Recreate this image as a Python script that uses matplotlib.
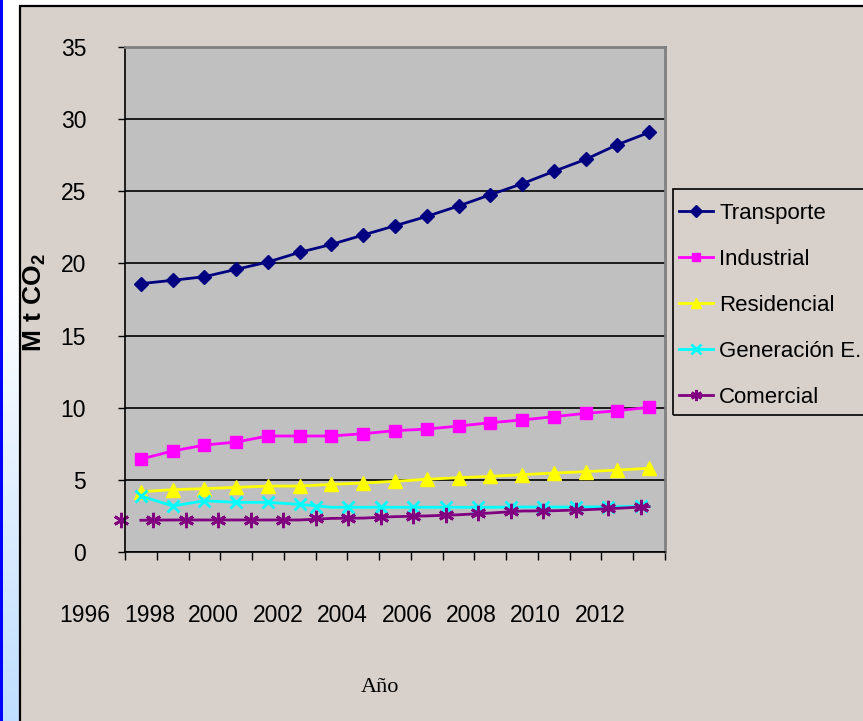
import numpy as np
import matplotlib
matplotlib.use("Agg")
import matplotlib.pyplot as plt
from matplotlib.patches import Rectangle
from matplotlib.lines import Line2D
from matplotlib.transforms import Affine2D

plt.rcParams['font.family'] = ['Liberation Sans', 'DejaVu Sans']
plt.rcParams['mathtext.fontset'] = 'custom'
plt.rcParams['mathtext.rm'] = 'Liberation Sans'
plt.rcParams['mathtext.bf'] = 'Liberation Sans:bold'

# ---- data ----
years = [1997, 1998, 1999, 2000, 2001, 2002, 2003, 2004, 2005,
         2006, 2007, 2008, 2009, 2010, 2011, 2012, 2013]
transporte = [18.6, 18.83, 19.08, 19.59, 20.1, 20.77, 21.32, 21.97, 22.61,
              23.26, 23.98, 24.76, 25.52, 26.38, 27.21, 28.23, 29.08]
industrial = [6.44, 7.0, 7.41, 7.62, 8.04, 8.04, 8.04, 8.2, 8.41,
              8.52, 8.73, 8.96, 9.15, 9.38, 9.61, 9.79, 10.03]
residencial = [4.18, 4.32, 4.39, 4.48, 4.57, 4.57, 4.69, 4.78, 4.9,
               5.04, 5.15, 5.24, 5.36, 5.47, 5.57, 5.68, 5.8]
generacion = [3.88, 3.19, 3.55, 3.44, 3.44, 3.3, 3.1, 3.1, 3.1,
              3.1, 3.1, 3.1, 3.12, 3.12, 3.12, 3.14, 3.16]
comercial = [2.2, 2.22, 2.22, 2.22, 2.22, 2.22, 2.33, 2.35, 2.45,
             2.5, 2.58, 2.7, 2.84, 2.86, 2.93, 3.03, 3.14]
tick_years = [1996, 1998, 2000, 2002, 2004, 2006, 2008, 2010, 2012]
series_names = ['Transporte', 'Industrial', 'Residencial', 'Generación E.', 'Comercial']

W, H = 863, 721
BG = '#D8D0CB'
fig = plt.figure(figsize=(W / 100, H / 100), dpi=100)
fig.patch.set_facecolor('white')

# left gradient strip
sax = fig.add_axes([0, 0, 20 / W, 1], zorder=-3)
t = np.linspace(0, 1, 200)
frac = np.clip((t - 0.4) / 0.6, 0, 1)
top = np.array([1.0, 1.0, 1.0])
bot = np.array([0.75, 0.87, 1.0])
grad = (1 - frac)[:, None] * top + frac[:, None] * bot
sax.imshow(grad[:, None, :], aspect='auto', extent=[0, 1, 0, 1], origin='upper')
sax.axis('off')
fig.patches.append(Rectangle((0, 0), 2.5 / W, 1, transform=fig.transFigure,
                             facecolor='#0000FF', edgecolor='none', zorder=-1))
# outer chart panel
fig.patches.append(Rectangle((20 / W, -0.05), 1.0, 1.05 - 6 / H, transform=fig.transFigure,
                             facecolor=BG, edgecolor='black', lw=1.6, zorder=-1))

ax = fig.add_axes([125 / W, 1 - 552 / H, 540 / W, 505 / H])
ax.set_facecolor('#C0C0C0')
x = np.arange(len(years))
ax.set_xlim(-0.5, len(years) - 0.5)
ax.set_ylim(0, 35)
ax.set_yticks([0, 5, 10, 15, 20, 25, 30, 35])
ax.grid(axis='y', color='black', lw=1.2)
ax.set_axisbelow(True)
ax.set_xticks(np.arange(-0.5, len(years), 1), minor=True)
ax.set_xticks([])
ax.tick_params(axis='x', which='minor', length=6, width=1, direction='out', color='black')
ax.tick_params(axis='y', length=5, width=1, pad=23, labelsize=16.5, direction='out')
for s in ['left', 'bottom']:
    ax.spines[s].set_color('black')
    ax.spines[s].set_linewidth(1.2)
for s in ['top', 'right']:
    ax.spines[s].set_color('#808080')
    ax.spines[s].set_linewidth(2)

# x tick labels (placed on a slightly stretched scale as in the reference)
xt = ax.get_xaxis_transform()
for yr in tick_years:
    pos = (yr - years[0]) * 1.014 - 0.75
    ax.text(pos, -0.1267, str(yr), transform=xt, ha='center', va='center',
            fontsize=16.5, clip_on=False)

lw = 2
ax.plot(x, transporte, color='#000080', lw=lw, marker='D', ms=7)
ax.plot(x, industrial, color='#FF00FF', lw=lw, marker='s', ms=8)
ax.plot(x, residencial, color='#FFFF00', lw=lw, marker='^', ms=10)
shift = Affine2D().scale(1.0233, 1).translate(-0.63, 0) + ax.transData
ax.plot(x, generacion, color='#00FFFF', lw=lw)
ax.plot(x[:6], generacion[:6], ls='none', color='#00FFFF', marker='x', ms=9, mew=2)
ax.plot(x[6:], generacion[6:], ls='none', color='#00FFFF', marker='x', ms=9, mew=2,
        transform=shift)
ax.plot(x, comercial, color='#800080', lw=lw)
ax.plot(x, comercial, ls='none', color='#800080', marker=(6, 2, 0), ms=11, mew=2,
        transform=shift, clip_on=False)

# legend
handles = [
    Line2D([], [], color='#000080', lw=2, marker='D', ms=6),
    Line2D([], [], color='#FF00FF', lw=2, marker='s', ms=6),
    Line2D([], [], color='#FFFF00', lw=2, marker='^', ms=7),
    Line2D([], [], color='#00FFFF', lw=2, marker='x', ms=7, mew=2),
    Line2D([], [], color='#800080', lw=2, marker=(6, 2, 0), ms=8, mew=2),
]
fig.legend(handles, series_names, loc='upper left', bbox_to_anchor=(679 / W, 1 - 203 / H),
           bbox_transform=fig.transFigure, frameon=False, fontsize=16,
           handlelength=1.55, handletextpad=0.25, labelspacing=1.12,
           borderpad=0, borderaxespad=0)
fig.patches.append(Rectangle((672.7 / W, 1 - 415 / H), 0.5, (415 - 189.3) / H,
                             transform=fig.transFigure, fill=False,
                             edgecolor='black', lw=1.2, zorder=-0.5))

fig.text(35 / W, 1 - 302 / H, r'$\mathbf{M\ t\ CO_2}$', rotation=90,
         ha='center', va='center', fontsize=19)
fig.text(380 / W, 1 - 687 / H, 'Año', family=['Liberation Serif', 'DejaVu Serif'],
         fontsize=16, ha='center', va='center')

fig.savefig('out.png', dpi=100, facecolor=fig.get_facecolor())
